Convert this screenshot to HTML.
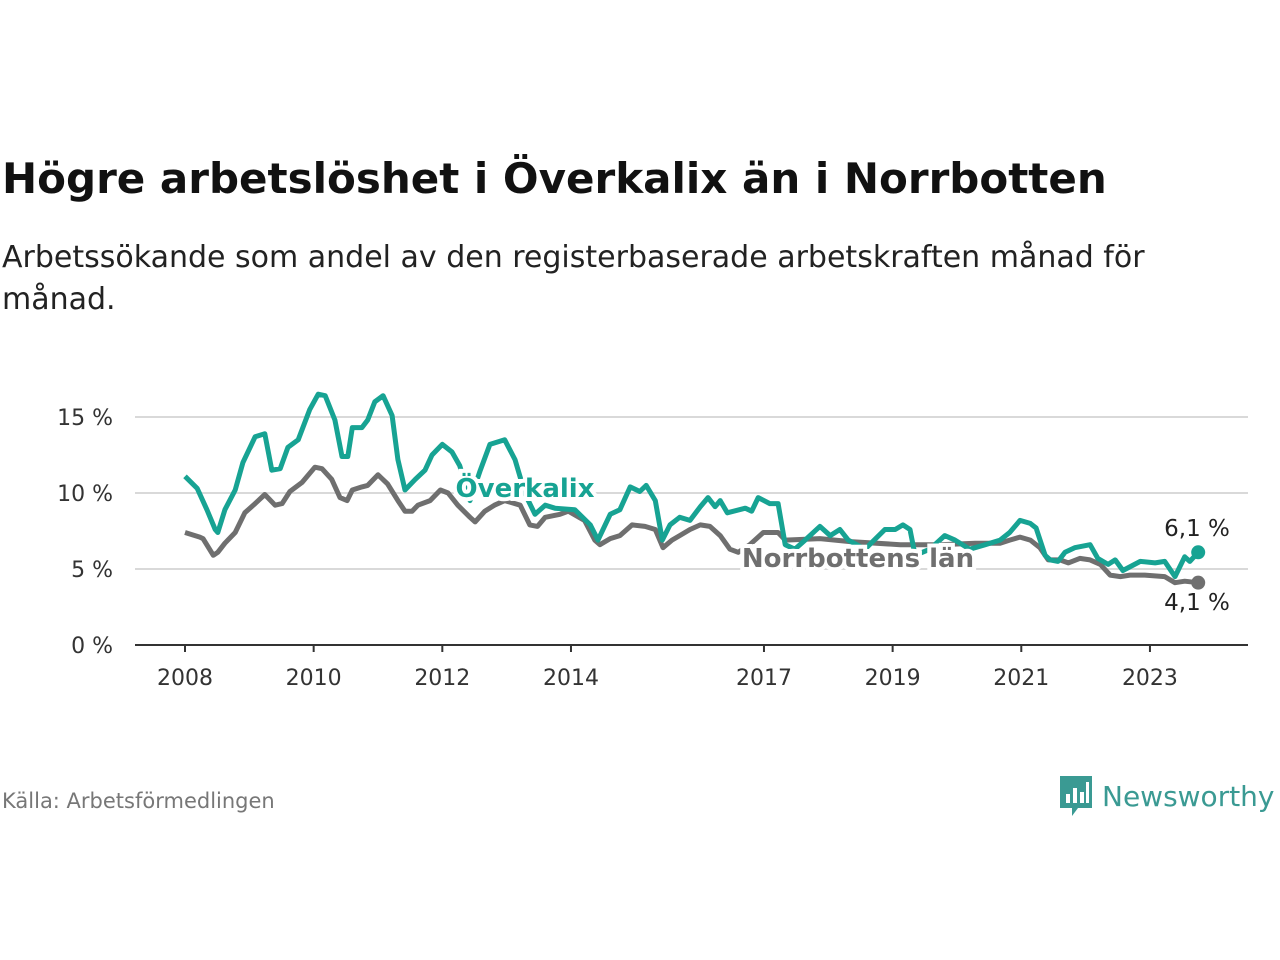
<!DOCTYPE html>
<html><head><meta charset="utf-8"><style>
body{margin:0;background:#fff;font-family:"DejaVu Sans","Liberation Sans",sans-serif;}
#wrap{position:relative;width:1280px;height:960px;overflow:hidden;}
h1{position:absolute;left:2px;top:154px;margin:0;font-size:42px;font-weight:bold;color:#111;white-space:nowrap}
#sub{position:absolute;left:2px;top:237px;margin:0;font-size:30px;line-height:42px;color:#222;width:1200px}
#src{position:absolute;left:2px;top:789px;font-size:21px;color:#777}
#logo{position:absolute;left:1058px;top:774px;display:flex;align-items:center;gap:8px}
#logo span{font-size:28px;color:#3a9a93}
</style></head><body>
<div id="wrap">
<h1>Högre arbetslöshet i Överkalix än i Norrbotten</h1>
<p id="sub">Arbetssökande som andel av den registerbaserade arbetskraften månad för månad.</p>
<svg id="chart" width="1280" height="960" style="position:absolute;left:0;top:0"></svg>
<div id="src">Källa: Arbetsförmedlingen</div>
<div id="logo">
<svg width="36" height="44" viewBox="0 0 36 44"><path d="M2 2h32v32H20l-6 8v-8H2z" fill="#3a9a93"/><rect x="8" y="20" width="4" height="9" fill="#fff"/><rect x="15" y="14" width="4" height="15" fill="#fff"/><rect x="22" y="18" width="4" height="11" fill="#fff"/><rect x="28" y="8" width="3" height="21" fill="#fff"/></svg>
<span>Newsworthy</span></div>
</div>
<script>
const yTicks=[0,5,10,15];
const yTickLabels=["0 %","5 %","10 %","15 %"];
const xTicks=[2008,2010,2012,2014,2017,2019,2021,2023];
const xTickLabels=["2008","2010","2012","2014","2017","2019","2021","2023"];
const overDates=[2008.00,2008.19,2008.34,2008.47,2008.51,2008.62,2008.78,2008.90,2009.09,2009.24,2009.35,2009.48,2009.60,2009.76,2009.94,2010.07,2010.18,2010.33,2010.44,2010.53,2010.60,2010.75,2010.84,2010.95,2011.08,2011.22,2011.31,2011.42,2011.58,2011.73,2011.84,2012.00,2012.15,2012.27,2012.43,2012.59,2012.74,2012.97,2013.13,2013.29,2013.44,2013.60,2013.75,2014.06,2014.30,2014.42,2014.61,2014.76,2014.92,2015.07,2015.17,2015.31,2015.42,2015.54,2015.69,2015.85,2016.01,2016.13,2016.24,2016.32,2016.43,2016.71,2016.81,2016.91,2017.09,2017.22,2017.33,2017.48,2017.64,2017.87,2018.03,2018.18,2018.31,2018.57,2018.88,2019.04,2019.16,2019.27,2019.35,2019.58,2019.81,2019.97,2020.20,2020.44,2020.67,2020.82,2020.98,2021.14,2021.23,2021.37,2021.45,2021.57,2021.68,2021.83,2022.07,2022.19,2022.35,2022.46,2022.58,2022.85,2023.08,2023.23,2023.39,2023.54,2023.62,2023.75];
const overValues=[11.1,10.3,8.9,7.6,7.4,8.9,10.2,12.0,13.7,13.9,11.5,11.6,13.0,13.5,15.5,16.5,16.4,14.8,12.4,12.4,14.3,14.3,14.8,16.0,16.4,15.1,12.2,10.2,10.9,11.5,12.5,13.2,12.7,11.8,9.5,11.5,13.2,13.5,12.2,9.9,8.6,9.2,9.0,8.9,7.9,6.9,8.6,8.9,10.4,10.1,10.5,9.5,6.9,7.9,8.4,8.2,9.1,9.7,9.1,9.5,8.7,9.0,8.8,9.7,9.3,9.3,6.6,6.3,6.9,7.8,7.2,7.6,6.9,6.3,7.6,7.6,7.9,7.6,5.9,6.3,7.2,6.9,6.3,6.6,6.9,7.4,8.2,8.0,7.7,5.9,5.6,5.5,6.1,6.4,6.6,5.7,5.3,5.6,4.9,5.5,5.4,5.5,4.5,5.8,5.5,6.1];
const norrDates=[2008.00,2008.23,2008.28,2008.44,2008.51,2008.62,2008.78,2008.93,2009.09,2009.24,2009.40,2009.51,2009.63,2009.82,2010.02,2010.13,2010.28,2010.41,2010.52,2010.60,2010.75,2010.84,2011.00,2011.15,2011.31,2011.42,2011.53,2011.62,2011.81,2011.97,2012.09,2012.24,2012.43,2012.51,2012.66,2012.81,2012.97,2013.21,2013.36,2013.48,2013.60,2013.83,2013.96,2014.21,2014.37,2014.45,2014.61,2014.76,2014.95,2015.15,2015.31,2015.43,2015.57,2015.69,2015.85,2016.01,2016.16,2016.32,2016.47,2016.60,2016.78,2016.99,2017.22,2017.33,2017.87,2018.34,2019.12,2019.74,2020.28,2020.44,2020.67,2020.82,2020.98,2021.14,2021.29,2021.42,2021.60,2021.73,2021.91,2022.07,2022.23,2022.38,2022.54,2022.69,2022.92,2023.23,2023.39,2023.54,2023.75];
const norrValues=[7.4,7.1,7.0,5.9,6.1,6.7,7.4,8.7,9.3,9.9,9.2,9.3,10.1,10.7,11.7,11.6,10.9,9.7,9.5,10.2,10.4,10.5,11.2,10.6,9.5,8.8,8.8,9.2,9.5,10.2,10.0,9.2,8.4,8.1,8.8,9.2,9.5,9.2,7.9,7.8,8.4,8.6,8.8,8.2,6.9,6.6,7.0,7.2,7.9,7.8,7.6,6.4,6.9,7.2,7.6,7.9,7.8,7.2,6.3,6.1,6.6,7.4,7.4,6.9,7.0,6.8,6.6,6.6,6.7,6.7,6.7,6.9,7.1,6.9,6.4,5.6,5.6,5.4,5.7,5.6,5.3,4.6,4.5,4.6,4.6,4.5,4.1,4.2,4.1];

const NS="http://www.w3.org/2000/svg";
const svg=document.getElementById('chart');
const FF='DejaVu Sans, Liberation Sans, sans-serif';
const X0=135,X1=1248;
const xs=y=>185+(y-2008)*64.33;
const ys=v=>645-v*15.2;
function mk(t,a){const e=document.createElementNS(NS,t);for(const k in a)e.setAttribute(k,a[k]);svg.appendChild(e);return e;}
yTicks.forEach((t,i)=>{
  if(t>0){const g=mk('line',{x1:X0,x2:X1,y1:ys(t),y2:ys(t),stroke:'#d9d9d9','stroke-width':2});
  
  }
  const l=mk('text',{x:113,y:ys(t)+8,'text-anchor':'end','font-size':22,fill:'#333','font-family':FF});
  l.textContent=yTickLabels[i];
  
  
});
const ax=mk('line',{x1:X0,x2:X1,y1:645,y2:645,stroke:'#333','stroke-width':2});


xTicks.forEach((t,i)=>{
  const tk=mk('line',{x1:xs(t),x2:xs(t),y1:645,y2:652,stroke:'#333','stroke-width':2});
  
  
  const l=mk('text',{x:xs(t),y:685,'text-anchor':'middle','font-size':22,fill:'#333','font-family':FF});
  l.textContent=xTickLabels[i];
  
  
});
function line(d,v){return d.map((t,i)=>(i?'L':'M')+xs(t).toFixed(1)+','+ys(v[i]).toFixed(1)).join(' ');}
const pn=mk('path',{d:line(norrDates,norrValues),fill:'none',stroke:'#6f6f6f','stroke-width':5,'stroke-linejoin':'round'});


const po=mk('path',{d:line(overDates,overValues),fill:'none',stroke:'#17a393','stroke-width':5,'stroke-linejoin':'round'});


function lab(x,y,txt,col,name,anchor,bold,size){
  const t=mk('text',{x:x,y:y,'text-anchor':anchor,'font-size':size,'font-weight':bold?'bold':'normal',fill:col,stroke:'#fff','stroke-width':bold?8:0,'paint-order':'stroke','font-family':FF});
  t.textContent=txt;
  
  
}
lab(525,497,'Överkalix','#17a393','overkalix-label','middle',true,26);
lab(858,567,'Norrbottens län','#6f6f6f','norrbotten-label','middle',true,26);
const lo=overValues.length-1, ln=norrValues.length-1;
const d1=mk('circle',{cx:xs(overDates[lo]),cy:ys(overValues[lo]),r:7,fill:'#17a393'});


const d2=mk('circle',{cx:xs(norrDates[ln]),cy:ys(norrValues[ln]),r:7,fill:'#6f6f6f'});


lab(1197,536,overValues[lo].toFixed(1).replace('.',',')+' %','#222','overkalix-end-value','middle',false,23);
lab(1197,610,norrValues[ln].toFixed(1).replace('.',',')+' %','#222','norrbotten-end-value','middle',false,23);
</script>
</body></html>
